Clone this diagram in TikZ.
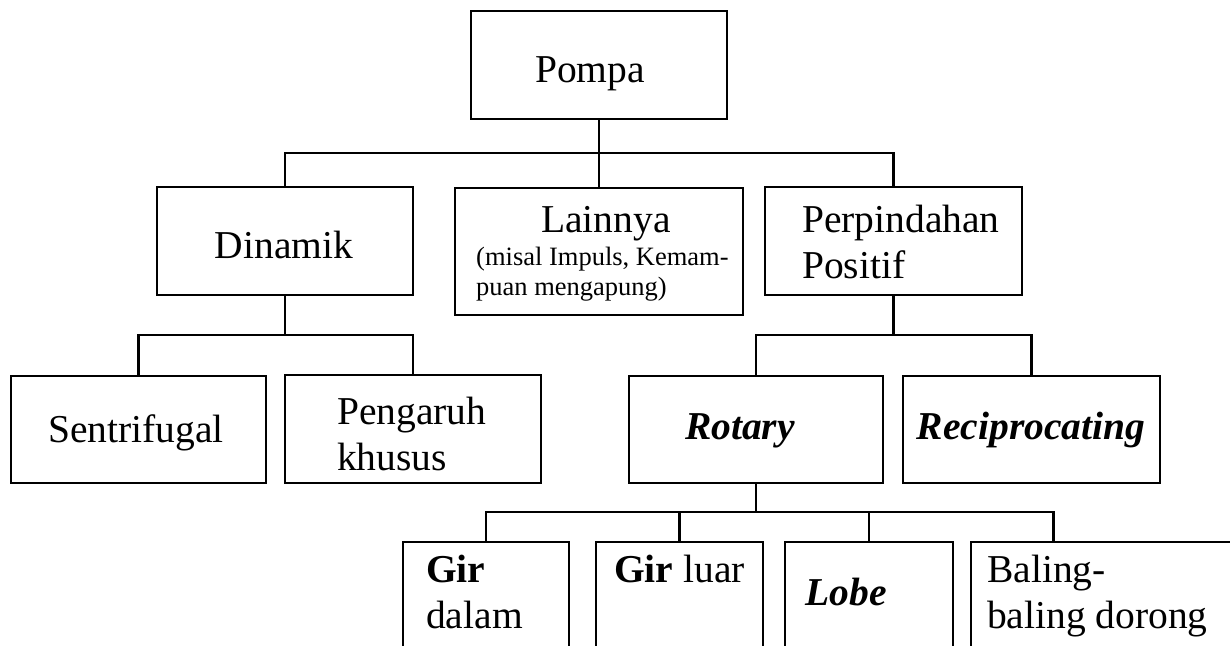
\documentclass[tikz,border=0pt]{standalone}
\usepackage{fontspec}
\setmainfont{Liberation Serif}

\tikzset{
  box/.style = {draw, line width=2.6pt, inner sep=0pt},
  link/.style = {line width=2.6pt},
  lbl/.style = {inner sep=0pt, font=\fontsize{39.5}{46}\selectfont, align=left},
  smalllbl/.style = {inner sep=0pt, font=\fontsize{26.5}{30}\selectfont, align=left}
}

\begin{document}
\begin{tikzpicture}[x=1pt, y=-1pt]
    \path[use as bounding box, clip] (0,0) rectangle (1230,645);

    % boxes (centre, size)
    \node[box, minimum width=256pt, minimum height=108pt] (pompa) at (599,65) {};
    \node[box, minimum width=256pt, minimum height=108pt] (dinamik) at (285,241) {};
    \node[box, minimum width=288pt, minimum height=127pt] (lainnya) at (599,251.5) {};
    \node[box, minimum width=257pt, minimum height=108pt] (perpindahan) at (893.5,241) {};
    \node[box, minimum width=255pt, minimum height=107pt] (sentrifugal) at (138.5,429.5) {};
    \node[box, minimum width=256pt, minimum height=108pt] (pengaruh) at (413,429) {};
    \node[box, minimum width=254pt, minimum height=107pt] (rotary) at (756,429.5) {};
    \node[box, minimum width=257pt, minimum height=107pt] (recip) at (1031.5,429.5) {};
    \node[box, minimum width=166pt, minimum height=158pt] (girdalam) at (486,621) {};
    \node[box, minimum width=167pt, minimum height=158pt] (girluar) at (679.5,621) {};
    \node[box, minimum width=168pt, minimum height=158pt] (lobe) at (869,621) {};
    \node[box, minimum width=299pt, minimum height=158pt] (baling) at (1120.5,621) {};
    \coordinate (balingtop) at ([xshift=84pt]baling.north west);

    % texts (multi-line: base = last line)
    \node[lbl, anchor=base] (tpompa) at (590,82) {Pompa};
    \node[lbl, anchor=base] (tdinamik) at (284,258) {Dinamik};
    \node[lbl, anchor=base] (tlainnya) at (606,232) {Lainnya};
    \node[smalllbl, anchor=base west] (tmisal) at (476,295) {(misal Impuls, Kemam-\\puan mengapung)};
    \node[lbl, anchor=base west] (tperpindahan) at (802,278) {Perpindahan\\Positif};
    \node[lbl, anchor=base] (tsentrifugal) at (136,442) {Sentrifugal};
    \node[lbl, anchor=base west] (tpengaruh) at (337,470) {Pengaruh\\khusus};
    \node[lbl, anchor=base] (trotary) at (740,439) {\textbf{\textit{Rotary}}};
    \node[lbl, anchor=base] (trecip) at (1031,439) {\textbf{\textit{Reciprocating}}};
    \node[lbl, anchor=base west] (tgirdalam) at (426,628) {\textbf{Gir}\\dalam};
    \node[lbl, anchor=base west] (tgirluar) at (614,582) {\textbf{Gir} luar};
    \node[lbl, anchor=base] (tlobe) at (846,605) {\textbf{\textit{Lobe}}};
    \node[lbl, anchor=base west] (tbaling) at (987,628) {Baling-\\baling dorong};

    % connectors
    \coordinate (busA) at (599,153);
    \coordinate (busB) at (285,335);
    \coordinate (busC) at (893.5,335);
    \coordinate (busD) at (756,512);
    \draw[link] (pompa.south) -- (busA);
    \draw[link] (dinamik.north) |- (perpindahan.north |- busA) -- (perpindahan.north);
    \draw[link] (busA) -- (lainnya.north);
    \draw[link] (dinamik.south) -- (busB);
    \draw[link] (sentrifugal.north) |- (pengaruh.north |- busB) -- (pengaruh.north);
    \draw[link] (perpindahan.south) -- (busC);
    \draw[link] (rotary.north) |- (recip.north |- busC) -- (recip.north);
    \draw[link] (rotary.south) -- (busD);
    \draw[link] (girdalam.north) |- (balingtop |- busD) -- (balingtop);
    \draw[link] (girluar.north) -- (girluar.north |- busD);
    \draw[link] (lobe.north) -- (lobe.north |- busD);
\end{tikzpicture}
\end{document}
